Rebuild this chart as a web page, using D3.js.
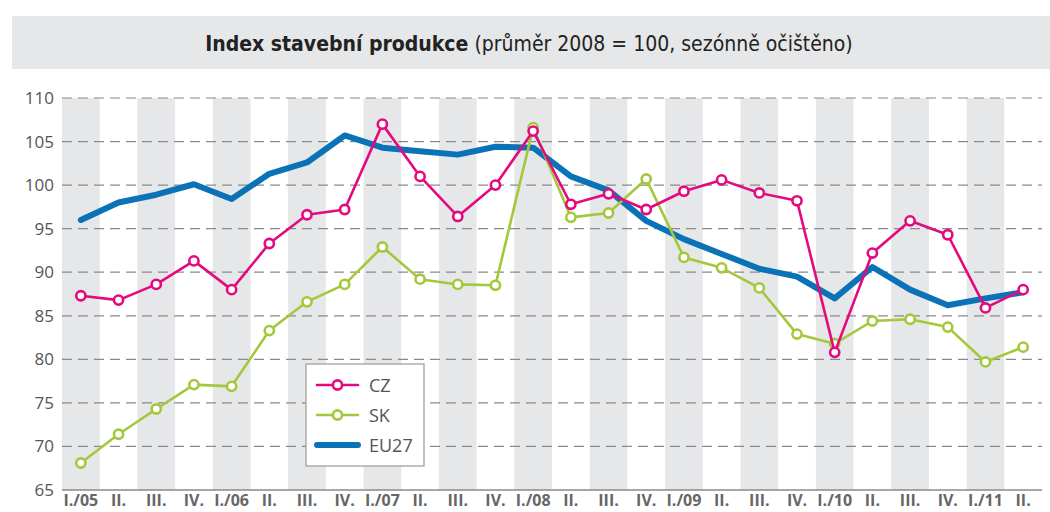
<!DOCTYPE html>
<html>
<head>
<meta charset="utf-8">
<script src="https://cdn.jsdelivr.net/npm/d3@7.9.0/dist/d3.min.js"></script>
<style>
  body { margin: 0; background: #fff; }
  svg { display: block; }
  text { font-family: "Open Sans", "Noto Sans", sans-serif; }
</style>
</head>
<body>
<div id="chart"></div>
<script>
const quarters = ['I./05', 'II.', 'III.', 'IV.', 'I./06', 'II.', 'III.', 'IV.',
  'I./07', 'II.', 'III.', 'IV.', 'I./08', 'II.', 'III.', 'IV.',
  'I./09', 'II.', 'III.', 'IV.', 'I./10', 'II.', 'III.', 'IV.', 'I./11', 'II.'];

const cz = [87.3, 86.8, 88.6, 91.3, 88.0, 93.3, 96.6, 97.2, 107.0, 101.0, 96.4, 100.0,
  106.2, 97.8, 99.0, 97.2, 99.3, 100.6, 99.1, 98.2, 80.8, 92.2, 95.9, 94.3, 85.9, 88.0];

const sk = [68.1, 71.4, 74.3, 77.1, 76.9, 83.3, 86.6, 88.6, 92.9, 89.2, 88.6, 88.5,
  106.6, 96.3, 96.8, 100.7, 91.7, 90.5, 88.2, 82.9, 81.8, 84.4, 84.6, 83.7, 79.7, 81.4];

const eu27 = [96.0, 98.0, 98.9, 100.1, 98.4, 101.3, 102.6, 105.7, 104.3, 103.9, 103.5, 104.4,
  104.3, 101.0, 99.4, 95.9, 93.8, 92.1, 90.4, 89.5, 87.0, 90.6, 88.0, 86.2, 87.0, 87.7];

const yTicks = [65, 70, 75, 80, 85, 90, 95, 100, 105, 110];

const series = [
  { name: 'EU27', values: eu27, color: '#0a73b7', width: 6, marker: false },
  { name: 'SK', values: sk, color: '#a3c83a', width: 2.6, marker: true },
  { name: 'CZ', values: cz, color: '#e5097f', width: 2.6, marker: true },
];

const width = 1050;
const height = 512;
const margin = { top: 98, right: 8, bottom: 22, left: 62 };

const svg = d3.select('#chart')
  .append('svg')
  .attr('width', width)
  .attr('height', height);

// title band
svg.append('rect')
  .attr('x', 12).attr('y', 16)
  .attr('width', width - 12).attr('height', 53)
  .attr('fill', '#e6e7e8');

const title = svg.append('text')
  .attr('x', 529).attr('y', 51)
  .attr('text-anchor', 'middle')
  .style('font-family', '"Liberation Sans Narrow", "DejaVu Sans Condensed", sans-serif')
  .style('font-size', '21px')
  .attr('fill', '#222');
title.append('tspan').attr('font-weight', 'bold').text('Index stavební produkce');
title.append('tspan').text(' (průměr 2008 = 100, sezónně očištěno)');

const x = d3.scaleBand()
  .domain(d3.range(quarters.length))
  .range([margin.left, width - margin.right])
  .padding(0);

const y = d3.scaleLinear()
  .domain([65, 110])
  .range([height - margin.bottom, margin.top]);

const cx = i => x(i) + x.bandwidth() / 2;

// alternating bands
svg.append('g')
  .selectAll('rect')
  .data(d3.range(quarters.length).filter(i => i % 2 === 0))
  .join('rect')
  .attr('x', i => x(i))
  .attr('y', y(110))
  .attr('width', x.bandwidth())
  .attr('height', y(65) - y(110))
  .attr('fill', '#e6e7e8');

// dashed gridlines
svg.append('g')
  .selectAll('line')
  .data(yTicks.filter(d => d > 65))
  .join('line')
  .attr('x1', margin.left)
  .attr('x2', width - margin.right)
  .attr('y1', d => y(d))
  .attr('y2', d => y(d))
  .attr('stroke', '#8a8a8a')
  .attr('stroke-width', 1.2)
  .attr('stroke-dasharray', '10,6');

// baseline
svg.append('line')
  .attr('x1', margin.left)
  .attr('x2', width - margin.right)
  .attr('y1', y(65))
  .attr('y2', y(65))
  .attr('stroke', '#8a8a8a')
  .attr('stroke-width', 1.5);

// y axis labels
const yAxis = svg.append('g')
  .attr('transform', `translate(${margin.left - 8},0)`)
  .call(d3.axisLeft(y).tickValues(yTicks).tickSize(0).tickPadding(0));
yAxis.select('.domain').remove();
yAxis.selectAll('text')
  .attr('fill', '#555')
  .style('font-size', '17px')
  .style('font-family', '"Open Sans", sans-serif');

// x axis labels
const xAxis = svg.append('g')
  .attr('transform', `translate(0,${y(65)})`)
  .call(d3.axisBottom(x).tickFormat(i => quarters[i]).tickSize(0).tickPadding(0));
xAxis.select('.domain').remove();
xAxis.selectAll('text')
  .attr('dy', null)
  .attr('y', 16)
  .attr('fill', '#666')
  .style('font-size', '16px')
  .style('font-weight', 'bold')
  .style('font-family', '"Open Sans", sans-serif');

const line = d3.line()
  .x((d, i) => cx(i))
  .y(d => y(d));

for (const s of series) {
  svg.append('path')
    .datum(s.values)
    .attr('d', line)
    .attr('fill', 'none')
    .attr('stroke', s.color)
    .attr('stroke-width', s.width)
    .attr('stroke-linejoin', 'round')
    .attr('stroke-linecap', 'round');

  if (s.marker) {
    svg.append('g')
      .selectAll('circle')
      .data(s.values)
      .join('circle')
      .attr('cx', (d, i) => cx(i))
      .attr('cy', d => y(d))
      .attr('r', 4.6)
      .attr('fill', '#fff')
      .attr('stroke', s.color)
      .attr('stroke-width', 2.6);
  }
}

// legend
const legend = svg.append('g').attr('transform', 'translate(306,364)');
legend.append('rect')
  .attr('width', 118).attr('height', 102)
  .attr('fill', '#fff')
  .attr('stroke', '#a0a0a0')
  .attr('stroke-width', 1.3);

const legendItems = [series[2], series[1], series[0]];
legendItems.forEach((s, k) => {
  const ly = 21 + k * 30;
  legend.append('line')
    .attr('x1', 11).attr('x2', 52)
    .attr('y1', ly).attr('y2', ly)
    .attr('stroke', s.color)
    .attr('stroke-width', s.width)
    .attr('stroke-linecap', 'round');
  if (s.marker) {
    legend.append('circle')
      .attr('cx', 31.5).attr('cy', ly).attr('r', 4.6)
      .attr('fill', '#fff')
      .attr('stroke', s.color)
      .attr('stroke-width', 2.6);
  }
  legend.append('text')
    .attr('x', 63).attr('y', ly + 6.5)
    .attr('fill', '#555')
    .style('font-size', '18px')
    .text(s.name);
});
</script>
</body>
</html>
